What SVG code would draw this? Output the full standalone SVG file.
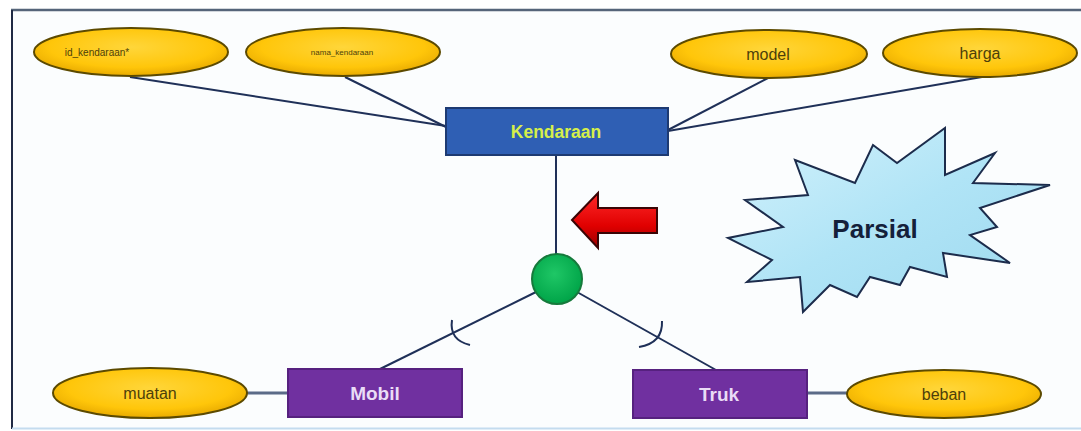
<svg xmlns="http://www.w3.org/2000/svg" width="1081" height="431" viewBox="0 0 1081 431">
  <defs>
    <radialGradient id="gold" cx="50%" cy="40%" r="60%">
      <stop offset="0" stop-color="#ffd63a"/>
      <stop offset="0.7" stop-color="#ffc60a"/>
      <stop offset="1" stop-color="#e8aa00"/>
    </radialGradient>
    <linearGradient id="sky" x1="0" y1="0" x2="1" y2="1">
      <stop offset="0" stop-color="#d4f2fc"/>
      <stop offset="0.5" stop-color="#b0e4f6"/>
      <stop offset="1" stop-color="#9cd8ee"/>
    </linearGradient>
    <linearGradient id="red" x1="0" y1="0" x2="0" y2="1">
      <stop offset="0" stop-color="#ff2a2a"/>
      <stop offset="0.6" stop-color="#e00000"/>
      <stop offset="1" stop-color="#9a0000"/>
    </linearGradient>
    <radialGradient id="green" cx="45%" cy="40%" r="60%">
      <stop offset="0" stop-color="#1fc766"/>
      <stop offset="1" stop-color="#00a448"/>
    </radialGradient>
    <style>
      .attr { fill: url(#gold); stroke: #5c4a00; stroke-width: 2; }
      .attr-text { font-family: "Liberation Sans", Arial, sans-serif; fill: #4d3f0a; text-anchor: middle; }
      .entity-text { font-family: "Liberation Sans", Arial, sans-serif; font-weight: bold; text-anchor: middle; }
      .link { stroke: #1f3058; stroke-width: 2; fill: none; }
      .attr-link { stroke: #5b6b88; stroke-width: 3; fill: none; }
    </style>
  </defs>

  <!-- canvas and frame -->
  <rect x="0" y="0" width="1081" height="431" fill="#ffffff"/>
  <rect x="12" y="10" width="1069" height="418" fill="#fbfdfe"/>
  <line x1="11" y1="10" x2="1081" y2="10" stroke="#556479" stroke-width="2.5"/>
  <line x1="12" y1="10" x2="12" y2="429" stroke="#1f2a44" stroke-width="2"/>
  <line x1="12" y1="428.5" x2="1081" y2="428.5" stroke="#c4dcef" stroke-width="2"/>

  <!-- connectors -->
  <g id="connectors">
    <line class="link" x1="130" y1="77" x2="446" y2="126"/>
    <line class="link" x1="345" y1="77" x2="446" y2="127"/>
    <line class="link" x1="768" y1="78" x2="668" y2="130"/>
    <line class="link" x1="982" y1="77" x2="668" y2="131"/>
    <line class="link" x1="556" y1="155" x2="556" y2="254"/>
    <line class="link" x1="536" y1="292" x2="380" y2="369"/>
    <line class="link" x1="577" y1="292" x2="716" y2="370"/>
    <path class="link" d="M452,320 Q449,340 470,345"/>
    <path class="link" d="M662,321 Q663,343 639,347"/>
    <line class="attr-link" x1="246" y1="393" x2="288" y2="393"/>
    <line class="attr-link" x1="806" y1="393" x2="848" y2="393"/>
  </g>

  <!-- attributes of Kendaraan -->
  <g id="attr-id-kendaraan">
    <ellipse class="attr" cx="131" cy="52" rx="97" ry="24"/>
    <text class="attr-text" x="97" y="56" font-size="10">id_kendaraan*</text>
  </g>
  <g id="attr-nama-kendaraan">
    <ellipse class="attr" cx="343" cy="52" rx="97" ry="24"/>
    <text class="attr-text" x="342" y="55" font-size="8">nama_kendaraan</text>
  </g>
  <g id="attr-model">
    <ellipse class="attr" cx="769" cy="54" rx="98" ry="24"/>
    <text class="attr-text" x="768" y="60" font-size="16">model</text>
  </g>
  <g id="attr-harga">
    <ellipse class="attr" cx="980" cy="53" rx="97" ry="24"/>
    <text class="attr-text" x="980" y="59" font-size="16">harga</text>
  </g>

  <!-- superclass -->
  <g id="entity-kendaraan">
    <rect x="446" y="108" width="222" height="47" fill="#2f5fb4" stroke="#1d3a72" stroke-width="2"/>
    <text class="entity-text" x="556" y="138" font-size="17.5" fill="#d6ef4a">Kendaraan</text>
  </g>

  <!-- specialization circle -->
  <g id="spec-circle">
    <circle cx="557" cy="279" r="25" fill="url(#green)" stroke="#167a3c" stroke-width="2"/>
  </g>

  <!-- direction arrow -->
  <g id="arrow">
    <polygon points="572,220 598,193 598,208 657,208 657,233 598,233 598,248" fill="url(#red)" stroke="#3a0505" stroke-width="2" stroke-linejoin="miter"/>
  </g>

  <!-- starburst note -->
  <g id="note-parsial">
    <polygon points="795,160 855,183 873,145 897,163 945,128 945,175 995,153 973,183 1050,185 980,208 997,227 970,235 1010,263 943,253 947,277 910,267 900,285 870,277 857,297 830,285 803,312 800,277 747,282 772,260 728,238 783,227 745,200 808,195" fill="url(#sky)" stroke="#1c2c4c" stroke-width="2" stroke-linejoin="miter"/>
    <text x="875" y="238" font-family="Liberation Sans, Arial, sans-serif" font-weight="bold" font-size="26" fill="#14203a" text-anchor="middle">Parsial</text>
  </g>

  <!-- subclasses -->
  <g id="entity-mobil">
    <rect x="288" y="369" width="174" height="48" fill="#7030a0" stroke="#56217f" stroke-width="2"/>
    <text class="entity-text" x="375" y="400" font-size="19" fill="#eadcf6">Mobil</text>
  </g>
  <g id="entity-truk">
    <rect x="633" y="370" width="174" height="48" fill="#7030a0" stroke="#56217f" stroke-width="2"/>
    <text class="entity-text" x="719" y="401" font-size="19" fill="#eadcf6">Truk</text>
  </g>

  <!-- attributes of subclasses -->
  <g id="attr-muatan">
    <ellipse class="attr" cx="150" cy="393" rx="97" ry="25"/>
    <text class="attr-text" x="150" y="399" font-size="16">muatan</text>
  </g>
  <g id="attr-beban">
    <ellipse class="attr" cx="944" cy="394" rx="97" ry="24"/>
    <text class="attr-text" x="944" y="400" font-size="16">beban</text>
  </g>
</svg>
